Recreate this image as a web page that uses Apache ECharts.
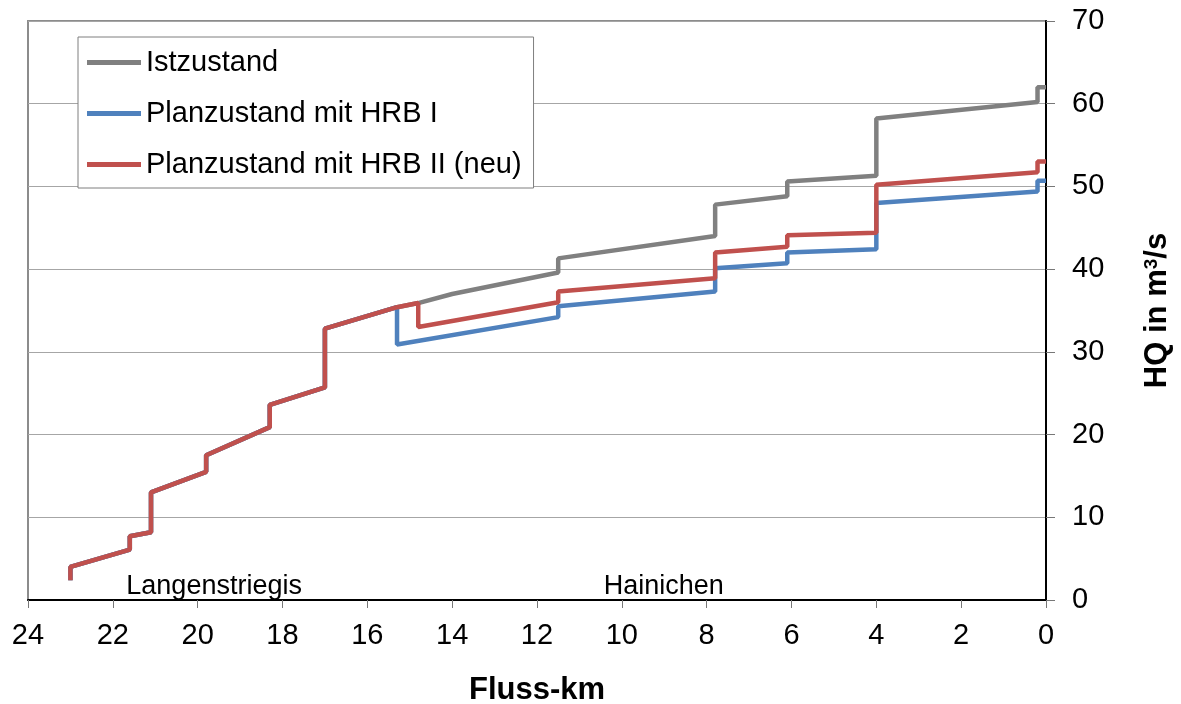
<!DOCTYPE html>
<html>
<head>
<meta charset="utf-8">
<script src="https://cdn.jsdelivr.net/npm/echarts@6/dist/echarts.min.js"></script>
<style>
  html, body { margin: 0; padding: 0; background: #fff; }
  #line { width: 1181px; height: 704px; }
</style>
</head>
<body>
<div id="line"></div>
<script>
// Fluss-km (x) und HQ in m3/s (y), Stufen = doppelte km-Werte
const istKm  = [23.0, 23.0, 21.6, 21.6, 21.1, 21.1, 19.8, 19.8, 18.3, 18.3, 17.0, 17.0, 15.3, 14.8, 14.0, 11.5, 11.5, 7.8, 7.8, 6.1, 6.1, 4.0, 4.0, 0.2, 0.2, 0];
const istHQ  = [2.4, 4.0, 6.1, 7.7, 8.2, 13.0, 15.5, 17.5, 20.9, 23.6, 25.7, 32.8, 35.4, 35.9, 37.0, 39.6, 41.3, 44.0, 47.8, 48.8, 50.6, 51.3, 58.2, 60.2, 62.0, 62.0];

const hrb1Km = [23.0, 23.0, 21.6, 21.6, 21.1, 21.1, 19.8, 19.8, 18.3, 18.3, 17.0, 17.0, 15.3, 15.3, 11.5, 11.5, 7.8, 7.8, 6.1, 6.1, 4.0, 4.0, 0.2, 0.2, 0];
const hrb1HQ = [2.4, 4.0, 6.1, 7.7, 8.2, 13.0, 15.5, 17.5, 20.9, 23.6, 25.7, 32.8, 35.4, 30.9, 34.2, 35.5, 37.3, 40.1, 40.7, 42.0, 42.4, 48.0, 49.4, 50.7, 50.7];

const hrb2Km = [23.0, 23.0, 21.6, 21.6, 21.1, 21.1, 19.8, 19.8, 18.3, 18.3, 17.0, 17.0, 15.3, 14.8, 14.8, 11.5, 11.5, 7.8, 7.8, 6.1, 6.1, 4.0, 4.0, 0.2, 0.2, 0];
const hrb2HQ = [2.4, 4.0, 6.1, 7.7, 8.2, 13.0, 15.5, 17.5, 20.9, 23.6, 25.7, 32.8, 35.4, 35.9, 33.0, 36.0, 37.3, 38.9, 42.0, 42.7, 44.1, 44.4, 50.2, 51.7, 53.0, 53.0];

const seriesNames = ['Istzustand', 'Planzustand mit HRB I', 'Planzustand mit HRB II (neu)'];
const seriesColors = ['#808080', '#4f81bd', '#c0504d'];

// Ortsnamen an der x-Achse
const orte   = ['Langenstriegis', 'Hainichen'];
const orteKm = [19.6, 9.0];

const pairs = (km, hq) => km.map((k, i) => [k, hq[i]]);
const lines = [pairs(istKm, istHQ), pairs(hrb1Km, hrb1HQ), pairs(hrb2Km, hrb2HQ)];

const font = "'Liberation Sans', Arial, sans-serif";
const myChart = echarts.init(document.getElementById('line'));

const series = lines.map((d, i) => ({
  name: seriesNames[i],
  type: 'line',
  data: d,
  showSymbol: false,
  color: seriesColors[i],
  lineStyle: { width: 4.5, color: seriesColors[i] },
  z: 2 + i
}));

series.push({
  name: 'orte',
  type: 'scatter',
  symbolSize: 1,
  silent: true,
  itemStyle: { opacity: 0 },
  data: orte.map((n, i) => ({ name: n, value: [orteKm[i], 1.6] })),
  label: {
    show: true,
    position: [0, 0],
    align: 'center',
    verticalAlign: 'middle',
    formatter: p => p.name,
    color: '#000',
    opacity: 1,
    fontSize: 27,
    fontFamily: font
  }
});

myChart.setOption({
  animation: false,
  backgroundColor: '#fff',
  grid: {
    left: 28,
    right: 135,
    top: 21,
    bottom: 104,
    outerBoundsMode: 'none',
    show: true,
    borderColor: '#8c8c8c',
    borderWidth: 2
  },
  legend: {
    data: seriesNames,
    orient: 'vertical',
    left: 78,
    top: 37,
    padding: [11, 12, 9, 9],
    itemGap: 22,
    itemWidth: 54,
    itemHeight: 5,
    icon: 'rect',
    backgroundColor: '#fff',
    borderColor: '#7f7f7f',
    borderWidth: 1,
    textStyle: { fontSize: 29, color: '#000', fontFamily: font }
  },
  xAxis: {
    type: 'value',
    inverse: true,
    min: 0,
    max: 24,
    interval: 2,
    name: 'Fluss-km',
    nameLocation: 'middle',
    nameGap: 75,
    nameTextStyle: { fontSize: 31, fontWeight: 'bold', color: '#000', fontFamily: font },
    axisLine: { show: true, lineStyle: { color: '#000', width: 2 } },
    axisTick: { show: true, length: 8, lineStyle: { color: '#777' } },
    axisLabel: { fontSize: 29, color: '#000', margin: 21, fontFamily: font },
    splitLine: { show: false }
  },
  yAxis: {
    type: 'value',
    position: 'right',
    min: 0,
    max: 70,
    interval: 10,
    name: 'HQ in m{sup|3}/s',
    nameLocation: 'middle',
    nameRotate: 90,
    nameGap: 96,
    nameTextStyle: {
      fontSize: 31, fontWeight: 'bold', color: '#000', fontFamily: font,
      rich: { sup: { fontSize: 19, fontWeight: 'bold', verticalAlign: 'top', padding: [0, 0, 10, 0], fontFamily: font } }
    },
    axisLine: { show: true, lineStyle: { color: '#000', width: 2 } },
    axisTick: { show: true, length: 9, lineStyle: { color: '#777' } },
    axisLabel: { fontSize: 29, color: '#000', margin: 26, fontFamily: font },
    splitLine: { show: true, lineStyle: { color: '#a6a6a6', width: 1 } }
  },
  series: series
});
</script>
</body>
</html>
